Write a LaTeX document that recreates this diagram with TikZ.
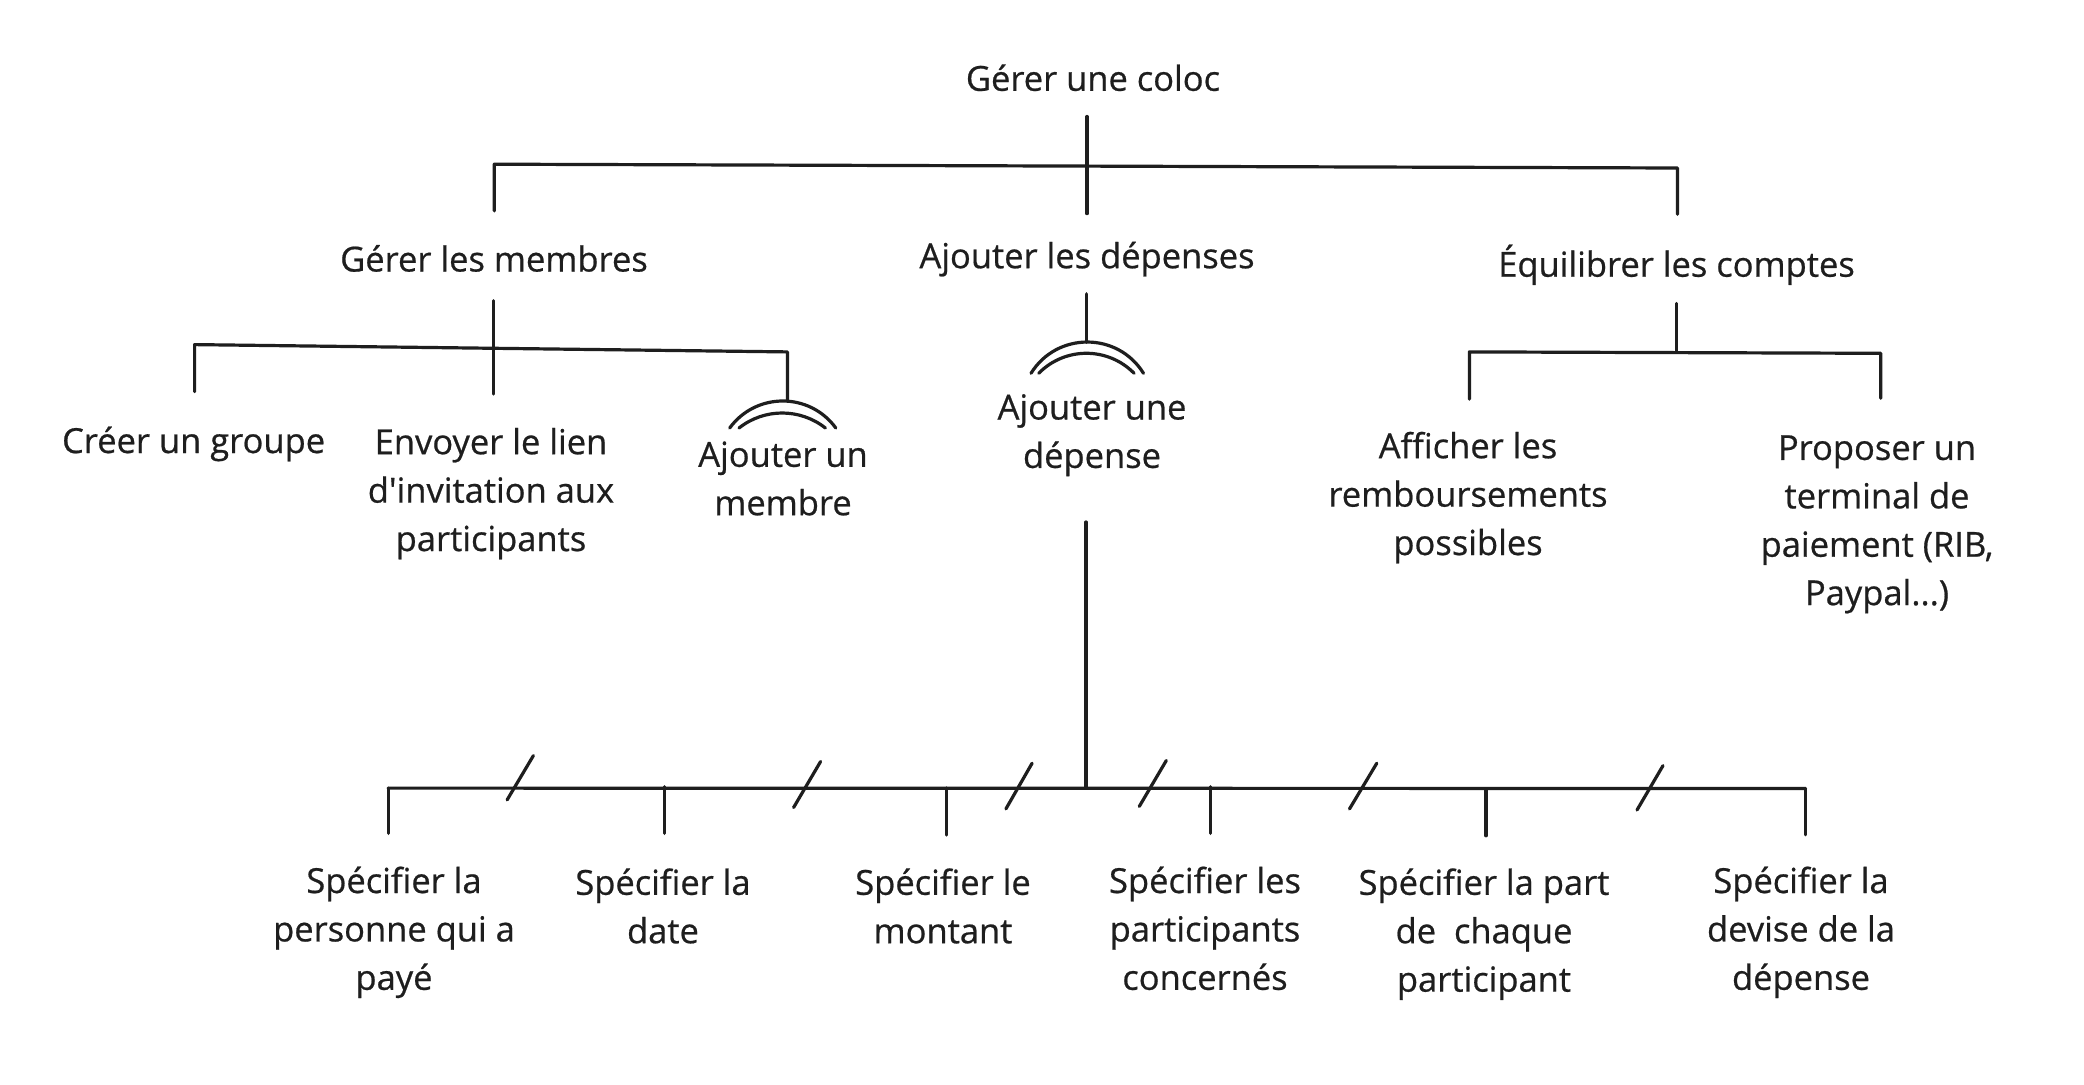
\documentclass[tikz,border=0pt]{standalone}
\usepackage{fontspec}
\setmainfont{Open Sans}[Ligatures=TeXOff]
\newfontfamily\nun{Open Sans}[Ligatures=TeXOff,FakeBold=0.6]
\definecolor{ink}{HTML}{1E1E1E}
\newcommand\tp{\rule{0pt}{40pt}}
\begin{document}
\begin{tikzpicture}[x=1pt,y=-1pt,
  lbl/.style={font=\nun\fontsize{34.5}{48.4}\selectfont, align=center, inner sep=0pt, anchor=north, text=ink},
  ln/.style={draw=ink, line width=3.2pt, line cap=round, line join=round}]
\fill[white] (0,0) rectangle (2084,1084);
\useasboundingbox (0,0) rectangle (2084,1084);
% texts
\node[lbl] (root) at (1093,50.6) {\tp Gérer une coloc};
\node[lbl] (gm) at (494,231.3) {\tp Gérer les membres};
\node[lbl] (ad) at (1087,228) {\tp Ajouter les dépenses};
\node[lbl] (eq) at (1676.5,236.5) {\tp Équilibrer les comptes};
\node[lbl] (cg) at (193.6,412.8) {\tp Créer un groupe};
\node[lbl] (env) at (491,414) {\tp Envoyer le lien\\d'invitation aux\\participants};
\node[lbl] (am) at (783,426.6) {\tp Ajouter un\\membre};
\node[lbl] (aud) at (1092,379.3) {\tp Ajouter une\\dépense};
\node[lbl] (aff) at (1468,418) {\tp Afficher les\\remboursements\\possibles};
\node[lbl] (prop) at (1877,419.7) {\tp Proposer un\\terminal de\\paiement (RIB,\\Paypal...)};
\node[lbl] (s1) at (394,852.8) {\tp Spécifier la\\personne qui a\\payé};
\node[lbl] (s2) at (663,854.6) {\tp Spécifier la\\date};
\node[lbl] (s3) at (943,854.6) {\tp Spécifier le\\montant};
\node[lbl] (s4) at (1205,852.8) {\tp Spécifier les\\participants\\concernés};
\node[lbl] (s5) at (1484,854.6) {\tp Spécifier la part\\de\ \ chaque\\participant};
\node[lbl] (s6) at (1801,852.8) {\tp Spécifier la\\devise de la\\dépense};
% coordinates: top level
\coordinate (r1) at (1087,116.5);
\coordinate (r2) at (1087,213.6);
\coordinate (tl) at (494.3,164.2);
\coordinate (tr) at (1677.5,168);
\coordinate (tlb) at (494.3,210.9);
\coordinate (trb) at (1677.5,214.3);
% level 2 left
\coordinate (g1) at (493.6,300.7);
\coordinate (g2) at (493.6,394);
\coordinate (gl) at (194.6,344.6);
\coordinate (gr) at (787.4,351.9);
\coordinate (glb) at (194.6,391.6);
\coordinate (grb) at (787.4,401);
% level 2 middle
\coordinate (a1) at (1086.8,293.8);
\coordinate (a2) at (1086.8,342.2);
% level 2 right
\coordinate (e1) at (1676.8,303.5);
\coordinate (e2) at (1676.8,351.9);
\coordinate (el) at (1469.4,351.9);
\coordinate (er) at (1880.7,353.3);
\coordinate (elb) at (1469.4,399.2);
\coordinate (erb) at (1880.7,398.2);
% bottom
\coordinate (m1) at (1086,522);
\coordinate (m2) at (1086,788.3);
\coordinate (bl) at (388.2,788.1);
\coordinate (br) at (1805.4,788.5);
% connectors
\draw[ln] (r1) -- (r2);
\draw[ln] (tlb) -- (tl) -- (tr) -- (trb);
\draw[ln] (g1) -- (g2);
\draw[ln] (glb) -- (gl) -- (gr) -- (grb);
\draw[ln] (a1) -- (a2);
\draw[ln] (e1) -- (e2);
\draw[ln] (elb) -- (el) -- (er) -- (erb);
\draw[ln] (m1) -- (m2);
\draw[ln] (bl) -- (br);
\draw[ln] (bl) -- (388.2,833.4);
\draw[ln] (664.7,786.7) -- (664.7,833.4);
\draw[ln] (946.4,788) -- (946.4,835.1);
\draw[ln] (1210.5,786.7) -- (1210.5,833.4);
\draw[ln] (1486,790) -- (1486,835.8);
\draw[ln] (br) -- (1805.4,834.8);
% slashes
\draw[ln] (507.1,799.9) -- (533.4,755.6);
\draw[ln] (793.6,807.5) -- (820.6,761.5);
\draw[ln] (1005.9,808.9) -- (1032.1,763.2);
\draw[ln] (1139.3,806.4) -- (1166.3,760.5);
\draw[ln] (1349.5,808.9) -- (1376.8,763.2);
\draw[ln] (1637,810) -- (1663,765.6);
% double arcs
\draw[ln] (729.7,428) .. controls (755.9,392) and (809.6,392) .. (835.8,428);
\draw[ln] (739,428) .. controls (764.4,408) and (800,408) .. (825.4,428);
\draw[ln] (1031,373.3) .. controls (1056.8,331.6) and (1117.7,331.6) .. (1143.5,373.3);
\draw[ln] (1038.7,373.3) .. controls (1064.9,346.6) and (1107.9,346.6) .. (1134.1,373.3);
\end{tikzpicture}
\end{document}
